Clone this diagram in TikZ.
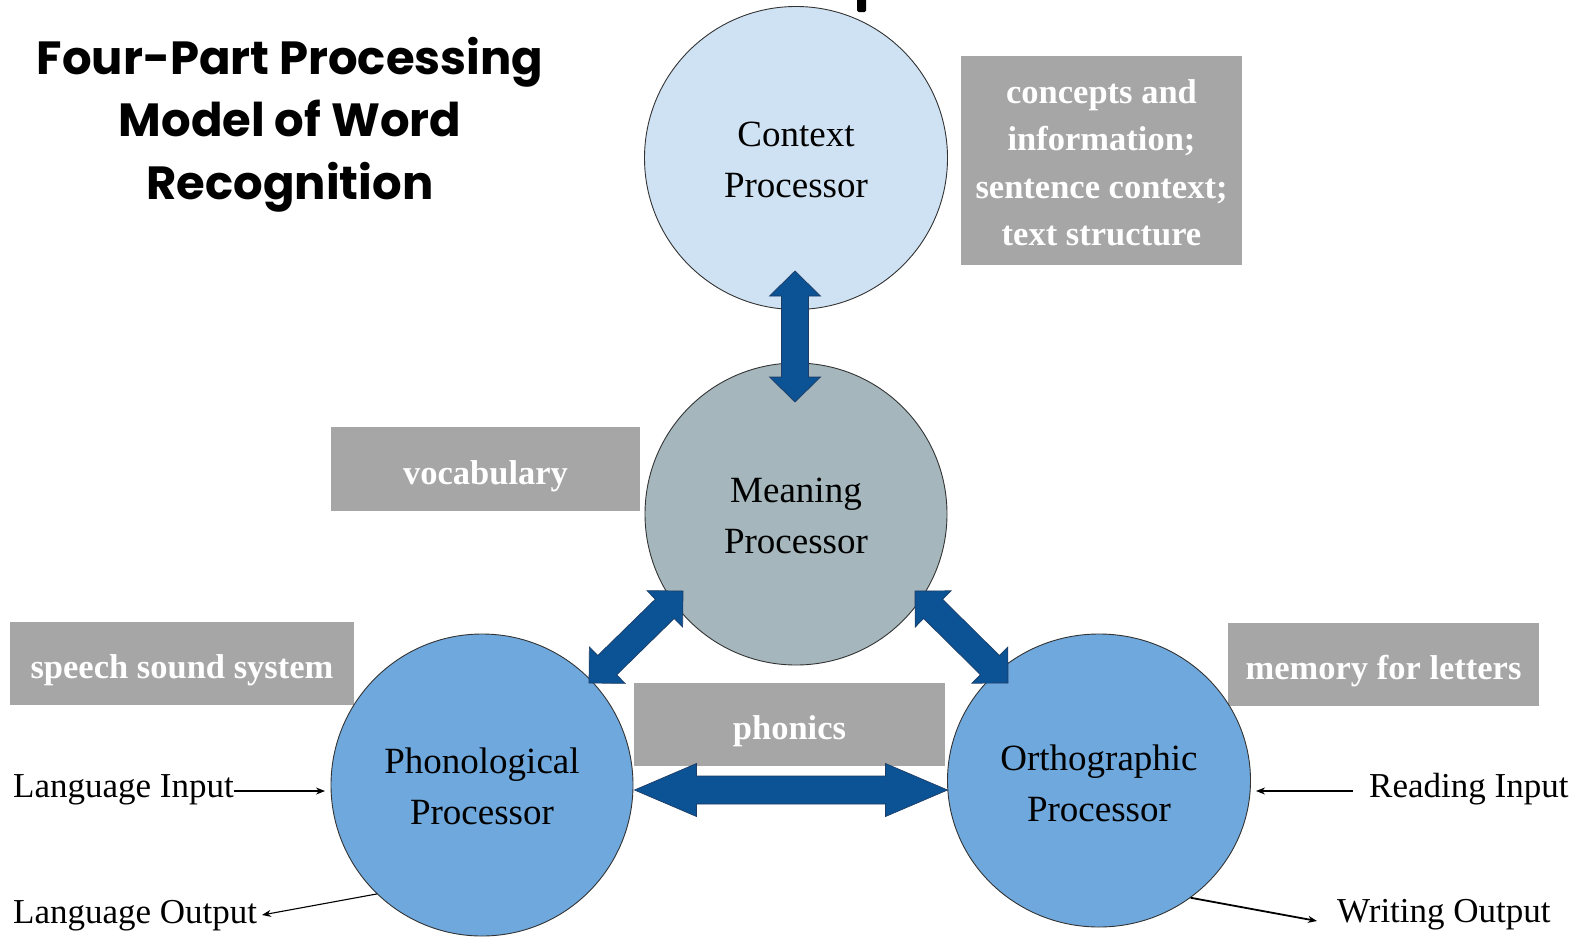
\documentclass[tikz,border=0pt]{standalone}
\usepackage{fontspec}
\setmainfont{Liberation Serif}
\newfontfamily\titlefont{Poppins}
\usetikzlibrary{calc,shapes.geometric,arrows.meta}
\definecolor{ctxfill}{HTML}{CFE2F3}
\definecolor{meanfill}{HTML}{A5B7BC}
\definecolor{procfill}{HTML}{6FA8DC}
\definecolor{arrowblue}{HTML}{0B5394}
\definecolor{arrowdark}{HTML}{1D3C66}
\definecolor{boxgray}{HTML}{A6A6A6}
\tikzset{
  proc/.style={circle, draw=black!80, line width=0.9pt, inner sep=0pt},
  proctext/.style={inner sep=0pt, align=center, yshift=-2pt,
    font=\fontsize{37}{51}\selectfont},
  graybox/.style={rectangle, fill=boxgray, inner sep=0pt},
  boxtext/.style={inner sep=0pt, align=center, text=white, yshift=-7pt,
    font=\bfseries\fontsize{34.5}{47.5}\selectfont},
  iolabel/.style={inner sep=0pt, anchor=base west, font=\fontsize{35}{40}\selectfont},
  thinarrow/.style={draw=black, line width=1.1pt, -{Stealth[length=9pt,width=7pt]}},
  blockfill/.style={fill=arrowblue, draw=arrowdark, line width=0.7pt, line join=miter},
  titleline/.style={anchor=base, inner sep=0pt, font=\titlefont\bfseries\fontsize{46.5}{46.5}\selectfont}
}
\newcommand\blockarrow[5]{%
  \path[blockfill]
    ($(#1)!#5!(#2)!#3!90:(#2)$) -- ($(#1)!#5!(#2)!#4!90:(#2)$) -- (#1) --
    ($(#1)!#5!(#2)!#4!-90:(#2)$) -- ($(#1)!#5!(#2)!#3!-90:(#2)$) --
    ($(#2)!#5!(#1)!#3!90:(#1)$) -- ($(#2)!#5!(#1)!#4!90:(#1)$) -- (#2) --
    ($(#2)!#5!(#1)!#4!-90:(#1)$) -- ($(#2)!#5!(#1)!#3!-90:(#1)$) -- cycle;}
\begin{document}
\begin{tikzpicture}[x=1pt,y=-1pt]
\useasboundingbox (0,0) rectangle (1584,937);

% fragment of a cut-off glyph at the top edge
\fill[black, rounded corners=1.5pt] (857,-4) rectangle (866,12);

% title
\node[titleline] (t1) at (290,74) {Four-Part Processing};
\node[titleline] (t2) at (290,136) {Model of Word};
\node[titleline] (t3) at (290,199) {Recognition};

% gray boxes
\node[graybox, minimum width=281pt, minimum height=209pt,
  label={[boxtext, yshift=5pt]center:concepts and\\information;\\sentence context;\\text structure}]
  (concepts) at (1101.5,160.5) {};
\node[graybox, minimum width=309pt, minimum height=84pt,
  label={[boxtext]center:vocabulary}] (vocab) at (485.5,469) {};
\node[graybox, minimum width=344pt, minimum height=83pt,
  label={[boxtext]center:speech sound system}] (speech) at (182,663.5) {};
\node[graybox, minimum width=311pt, minimum height=83pt,
  label={[boxtext]center:phonics}] (phonics) at (789.5,724.5) {};
\node[graybox, minimum width=311pt, minimum height=83pt,
  label={[boxtext]center:memory for letters}] (memory) at (1383.5,664.5) {};

% processors
\node[proc, fill=ctxfill, minimum size=303pt,
  label={[proctext]center:Context\\Processor}] (ctx) at (796,158) {};
\node[proc, fill=meanfill, minimum size=302pt,
  label={[proctext]center:Meaning\\Processor}] (mean) at (796,514) {};
\node[proc, fill=procfill, minimum size=302pt,
  label={[proctext, yshift=0.5pt]center:Phonological\\Processor}] (phon) at (482,785) {};
\node[proc, ellipse, fill=procfill, minimum width=303pt, minimum height=293pt,
  label={[proctext, yshift=-0.5pt]center:Orthographic\\Processor}] (orth) at (1099,780.5) {};

% block arrows between processors
\coordinate (vtop) at (795,271);
\coordinate (vbot) at (795,402);
\blockarrow{vtop}{vbot}{13.5pt}{25.5pt}{25pt}
\coordinate (hleft) at (634.5,790);
\coordinate (hright) at (947.5,790);
\blockarrow{hleft}{hright}{14pt}{26.5pt}{62pt}
\coordinate (dlA) at (589,683);
\coordinate (dlB) at (683,591);
\blockarrow{dlA}{dlB}{13.5pt}{25.5pt}{25.5pt}
\coordinate (drA) at (915,591);
\coordinate (drB) at (1008,683);
\blockarrow{drA}{drB}{13.5pt}{25.5pt}{25.5pt}

% inputs and outputs
\node[iolabel] (lin) at (13,797) {Language Input};
\node[iolabel] (lout) at (13,923) {Language Output};
\node[iolabel] (rin) at (1369,797) {Reading Input};
\node[iolabel] (wout) at (1337,922) {Writing Output};

\coordinate (linend) at (325,791);
\draw[thinarrow] (lin.east |- linend) -- (linend);
\coordinate (loutend) at (262,915);
\draw[thinarrow] (phon.226) -- (loutend);
\coordinate (rinstart) at (1353,791);
\coordinate (rinend) at (1256,791);
\draw[thinarrow] (rinstart) -- (rinend);
\coordinate (woutend) at (1317,921);
\draw[thinarrow, line width=1.8pt] (orth.-52) -- (woutend);
\end{tikzpicture}
\end{document}
